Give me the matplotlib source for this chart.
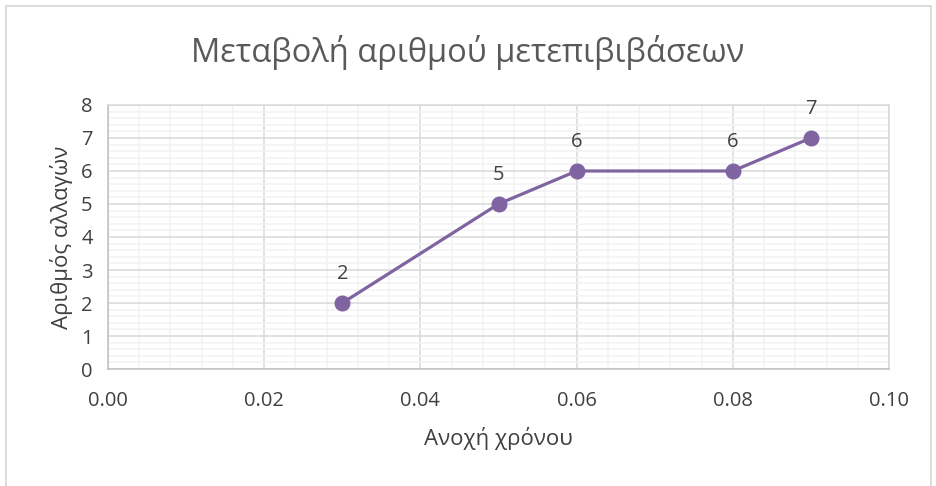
import matplotlib.pyplot as plt
from matplotlib.ticker import MultipleLocator, FormatStrFormatter
from matplotlib.patches import Rectangle

plt.rcParams['font.family'] = ['Open Sans', 'DejaVu Sans']

tolerance = [0.03, 0.05, 0.06, 0.08, 0.09]
changes = [2, 5, 6, 6, 7]

purple = '#8064A2'
text_col = '#404040'

fig = plt.figure(figsize=(9.36, 4.86), dpi=100)
ax = fig.add_axes([0.1154, 0.2407, 0.8344, 0.5433])

ax.plot(tolerance, changes, color=purple, lw=2.3, marker='o', ms=10.5, zorder=3)
for x, y in zip(tolerance, changes):
    ax.annotate(str(y), (x, y), xytext=(0, 14), textcoords='offset points',
                ha='center', va='bottom', fontsize=14.5, color=text_col)

ax.set_xlim(0, 0.10)
ax.set_ylim(0, 8)
ax.xaxis.set_major_locator(MultipleLocator(0.02))
ax.xaxis.set_minor_locator(MultipleLocator(0.004))
ax.xaxis.set_major_formatter(FormatStrFormatter('%.2f'))
ax.yaxis.set_major_locator(MultipleLocator(1))
ax.yaxis.set_minor_locator(MultipleLocator(0.2))

ax.grid(which='major', color='#D9D9D9', lw=1.1)
ax.grid(which='minor', color='#F2F2F2', lw=1.1)
ax.set_axisbelow(True)
ax.tick_params(which='both', length=0)
ax.tick_params(axis='x', pad=16, labelsize=14.5, colors=text_col)
ax.tick_params(axis='y', pad=11, labelsize=14.5, colors=text_col)
for s in ax.spines.values():
    s.set_color('#D9D9D9')
    s.set_linewidth(1.1)
ax.spines['left'].set_color('#BFBFBF')
ax.spines['bottom'].set_color('#BFBFBF')

ax.set_xlabel('Ανοχή χρόνου', fontsize=16, color=text_col, labelpad=11)
ax.set_ylabel('Αριθμός αλλαγών', fontsize=16, color=text_col, labelpad=6)
fig.text(0.5, 0.893, 'Μεταβολή αριθμού μετεπιβιβάσεων', ha='center', va='center',
         fontsize=23.5, color='#595959')

# chart area frame
fig.patches.append(Rectangle((6 / 936, -0.02), 925 / 936, 1 - 6 / 486 + 0.02,
                             transform=fig.transFigure, fill=False,
                             edgecolor='#D9D9D9', lw=1.3))

fig.savefig('out.png', dpi=100)
